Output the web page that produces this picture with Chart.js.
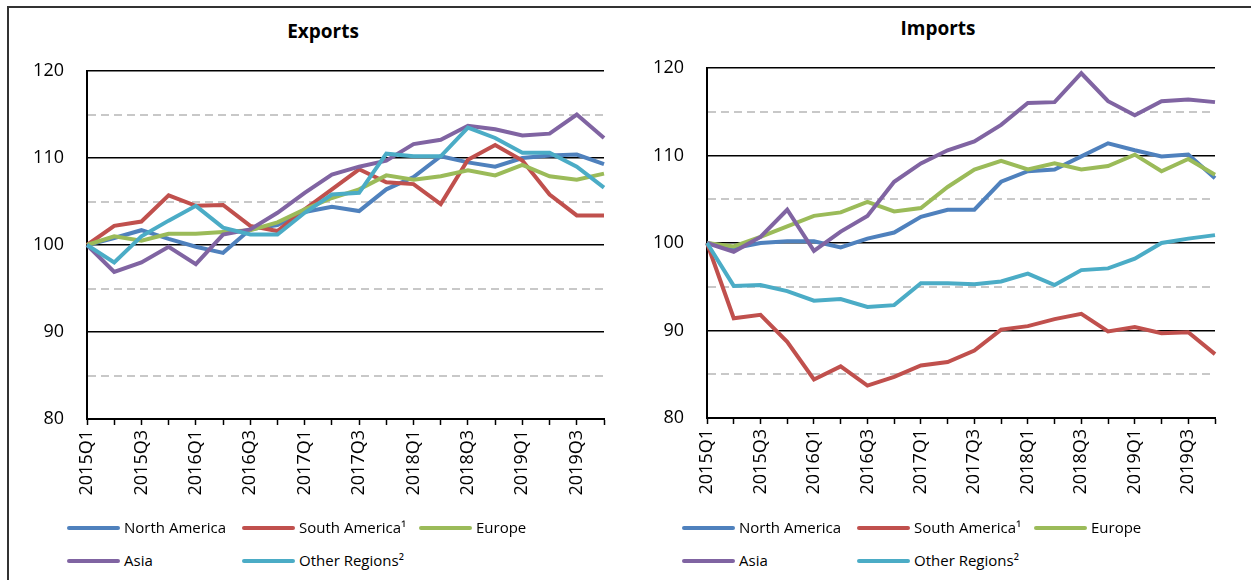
<!DOCTYPE html>
<html>
<head>
<meta charset="utf-8">
<script src="https://cdn.jsdelivr.net/npm/chart.js@4.4.1/dist/chart.umd.min.js"></script>
<style>
    body { margin: 0; background: #fff; font-family: 'Open Sans', sans-serif; }
    #page { position: relative; width: 1251px; height: 580px; overflow: hidden; }
    #frame { position: absolute; left: 7px; top: 6px; width: 1250px; height: 580px;
             border-top: 2px solid #333; border-left: 2px solid #333; }
    .box { position: absolute; top: 0; height: 520px; }
    .title { position: absolute; width: 200px; margin-left: -100px; text-align: center;
             font-weight: bold; font-size: 19px; color: #000; line-height: 24px; }
    .item { position: absolute; height: 24px; line-height: 24px; font-size: 15px; color: #000;
            white-space: nowrap; margin-top: -12px; }
    .item span { display: inline-block; width: 53px; height: 4px; border-radius: 2px;
                 vertical-align: middle; margin-right: 4px; margin-top: -2px; }
</style>
</head>
<body>
<div id="page">
    <div id="frame"></div>
    <div class="title" style="left:323px; top:19px;">Exports</div>
    <div class="title" style="left:938px; top:16px;">Imports</div>
    <div class="box" style="left:0; width:620px;"><canvas id="exportsChart"></canvas></div>
    <div class="box" style="left:625px; width:626px;"><canvas id="importsChart"></canvas></div>
    <div id="exportsLegend"></div>
    <div id="importsLegend"></div>
</div>
<script>
// quarters on the x axis, only every second one gets a label
const quarters = ['2015Q1', '2015Q2', '2015Q3', '2015Q4', '2016Q1', '2016Q2', '2016Q3', '2016Q4',
    '2017Q1', '2017Q2', '2017Q3', '2017Q4', '2018Q1', '2018Q2', '2018Q3', '2018Q4',
    '2019Q1', '2019Q2', '2019Q3', '2019Q4'];

const regions = ['North America', 'South America¹', 'Europe', 'Asia', 'Other Regions²'];
const colors = ['#4f81bd', '#c0504d', '#9bbb59', '#8064a2', '#4bacc6'];

// Exports
const expNorthAmerica = [100, 100.8, 101.7, 100.7, 99.8, 99.1, 101.8, 102.3, 103.8, 104.4, 103.9, 106.4, 107.8, 110.2, 109.5, 109.0, 110.0, 110.3, 110.4, 109.3];
const expSouthAmerica = [100, 102.2, 102.7, 105.7, 104.5, 104.6, 102.2, 101.6, 104.1, 106.4, 108.7, 107.2, 107.0, 104.7, 109.8, 111.5, 109.7, 105.8, 103.4, 103.4];
const expEurope = [100, 101.0, 100.5, 101.3, 101.3, 101.5, 101.7, 102.6, 104.1, 105.4, 106.4, 108.0, 107.5, 107.9, 108.6, 108.0, 109.2, 107.9, 107.5, 108.2];
const expAsia = [100, 96.9, 98.0, 99.8, 97.8, 101.2, 101.8, 103.7, 106.0, 108.1, 109.0, 109.7, 111.6, 112.1, 113.7, 113.3, 112.6, 112.8, 115.0, 112.3];
const expOther = [100, 98.0, 101.0, 102.8, 104.5, 102.0, 101.2, 101.2, 103.7, 105.8, 106.0, 110.5, 110.2, 110.2, 113.5, 112.3, 110.6, 110.6, 109.0, 106.6];

// Imports
const impNorthAmerica = [100, 99.4, 100.0, 100.2, 100.2, 99.5, 100.5, 101.2, 103.0, 103.8, 103.8, 107.0, 108.2, 108.4, 109.9, 111.4, 110.6, 109.9, 110.1, 107.4];
const impSouthAmerica = [100, 91.4, 91.8, 88.7, 84.4, 85.9, 83.7, 84.7, 86.0, 86.4, 87.7, 90.1, 90.5, 91.3, 91.9, 89.9, 90.4, 89.7, 89.8, 87.3];
const impEurope = [100, 99.6, 100.7, 101.9, 103.1, 103.5, 104.7, 103.6, 104.0, 106.4, 108.4, 109.4, 108.4, 109.1, 108.4, 108.8, 110.1, 108.2, 109.6, 107.8];
const impAsia = [100, 99.0, 100.7, 103.8, 99.1, 101.3, 103.1, 107.0, 109.1, 110.6, 111.6, 113.5, 116.0, 116.1, 119.4, 116.2, 114.6, 116.2, 116.4, 116.1];
const impOther = [100, 95.1, 95.2, 94.5, 93.4, 93.6, 92.7, 92.9, 95.4, 95.4, 95.3, 95.6, 96.5, 95.2, 96.9, 97.1, 98.2, 100.0, 100.5, 100.9];

const yMin = 80;
const yMax = 120;
const yStep = 5;

Chart.defaults.font.family = "'Open Sans', sans-serif";
Chart.defaults.color = '#000';

function isMajor(c) {
    return c.tick && c.tick.value % 10 === 0;
}

function createRegionChart(id, series, yAxisWidth, xAxisHeight, padTop, padRight) {
    let ctx = document.getElementById(id).getContext('2d');
    let datasets = [];
    for (let i in series) {
        datasets.push({
            label: regions[i],
            data: series[i],
            borderColor: colors[i],
            backgroundColor: colors[i],
            borderWidth: 4,
            pointRadius: 0,
            tension: 0,
            order: series.length - i   // last series drawn on top, like Excel
        });
    }
    let myChart = new Chart(ctx, {
        type: 'line',
        data: {
            labels: quarters,
            datasets: datasets
        },
        options: {
            responsive: true,
            maintainAspectRatio: false,
            animation: false,
            layout: {
                padding: {top: padTop, right: padRight, bottom: 0, left: 0}
            },
            plugins: {
                legend: {display: false},
                title: {display: false},
                tooltip: {enabled: false}
            },
            scales: {
                x: {
                    offset: false,
                    grid: {
                        drawOnChartArea: false,
                        drawTicks: true,
                        tickLength: 6,
                        tickColor: '#000',
                        tickWidth: 1.5
                    },
                    border: {display: true, color: '#000', width: 2},
                    ticks: {
                        autoSkip: false,
                        maxRotation: 90,
                        minRotation: 90,
                        padding: 5,
                        font: {size: 18},
                        callback: function (value, index) {
                            return index % 2 === 0 ? quarters[index] : '';
                        }
                    },
                    afterFit: function (scale) {
                        scale.height = xAxisHeight;
                        scale.paddingLeft = 0;
                        scale.paddingRight = 0;
                    }
                },
                y: {
                    min: yMin,
                    max: yMax,
                    grid: {
                        drawTicks: false,
                        color: c => isMajor(c) ? '#000' : '#c8c8c8',
                        lineWidth: c => isMajor(c) ? 1.5 : 2
                    },
                    border: {
                        display: true,
                        color: '#000',
                        width: 2,
                        dash: c => (c.tick && !isMajor(c)) ? [8, 5] : []
                    },
                    ticks: {
                        stepSize: yStep,
                        padding: 23,
                        font: {size: 18},
                        callback: function (value) {
                            return value % 10 === 0 ? value : '';
                        }
                    },
                    afterFit: function (scale) {
                        scale.width = yAxisWidth;
                        scale.paddingTop = 0;
                        scale.paddingBottom = 0;
                    }
                }
            }
        }
    });
}

function createLegend(id, left) {
    let el = document.getElementById(id);
    let rows = [527, 560];
    let cols = [left, left + 175, left + 352];
    for (let i in regions) {
        let item = document.createElement('div');
        item.className = 'item';
        item.style.left = cols[i % 3] + 'px';
        item.style.top = rows[Math.floor(i / 3)] + 'px';
        item.innerHTML = '<span style="background:' + colors[i] + '"></span>' + regions[i];
        el.appendChild(item);
    }
}

createRegionChart('exportsChart', [expNorthAmerica, expSouthAmerica, expEurope, expAsia, expOther], 87, 101, 71, 16);
createRegionChart('importsChart', [impNorthAmerica, impSouthAmerica, impEurope, impAsia, impOther], 82, 102, 68, 36);
createLegend('exportsLegend', 67);
createLegend('importsLegend', 682);
</script>
</body>
</html>
